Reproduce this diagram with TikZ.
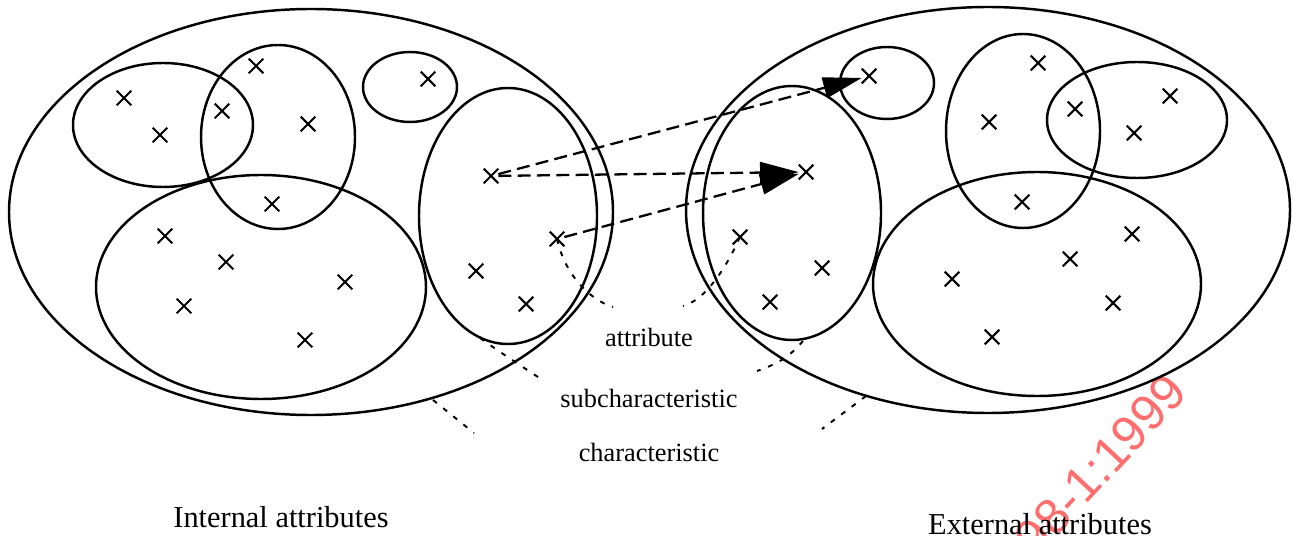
\documentclass[tikz,border=0pt]{standalone}
\usepackage{fontspec}
\setmainfont{Liberation Serif}
\newfontfamily\wmfont{Liberation Sans}
\usetikzlibrary{shapes.misc,arrows.meta}
\definecolor{wmred}{RGB}{255,110,110}
\tikzset{
  ell/.style={draw, line width=1.4pt},
  xmark/.style={cross out, draw, line width=1.2pt, inner sep=0pt, minimum size=0.25cm},
  dasharrow/.style={line width=1.3pt, dash pattern=on 7.4pt off 3.6pt, -{Triangle[length=22pt,width=12pt]}},
  leader/.style={line width=1.1pt, dash pattern=on 2.8pt off 4.6pt},
  lab/.style={font=\fontsize{15}{18}\selectfont, inner sep=0pt},
  ttl/.style={font=\fontsize{17.3}{20}\selectfont, inner sep=0pt}
}
\begin{document}
\begin{tikzpicture}[x=0.02cm,y=-0.02cm]
\useasboundingbox (0,0) rectangle (1293,536);
% watermark (behind)
\node[text=wmred, font=\wmfont\fontsize{28.4}{32}\selectfont, rotate=47, anchor=base east, inner sep=0pt] (wm) at (1190,394) {14598-1:1999};

% ---------- internal attributes (left) ----------
\draw[ell] (311,212) ellipse (302 and 203);
\draw[ell] (163,125) ellipse (90 and 62);
\draw[ell] (278,137) ellipse (77 and 92);
\draw[ell] (410,87) ellipse (47 and 35);
\draw[ell] (261,287) ellipse (165 and 112);
\draw[ell] (508,216) ellipse (89 and 128);

\node[xmark] (i1) at (124,98) {};
\node[xmark] (i2) at (160,135) {};
\node[xmark] (i3) at (222,111) {};
\node[xmark] (i4) at (256,66) {};
\node[xmark] (i5) at (308,124) {};
\node[xmark] (i6) at (272,204) {};
\node[xmark] (i7) at (165,236) {};
\node[xmark] (i8) at (226,262) {};
\node[xmark] (i9) at (184,306) {};
\node[xmark] (i10) at (345,282) {};
\node[xmark] (i11) at (305,340) {};
\node[xmark] (i12) at (428,79) {};
\node[xmark] (iB) at (491,176) {};
\node[xmark] (iA) at (557,239) {};
\node[xmark] (i15) at (476,271) {};
\node[xmark] (i16) at (526,304) {};

% ---------- external attributes (right) ----------
\draw[ell] (988,210) ellipse (302 and 203);
\draw[ell] (792,213) ellipse (89 and 127);
\draw[ell] (887,83) ellipse (47 and 36);
\draw[ell] (1023,131) ellipse (77 and 97);
\draw[ell] (1137,120) ellipse (90 and 58);
\draw[ell] (1037,284) ellipse (164 and 112);

\node[xmark] (eB) at (869,76) {};
\node[xmark] (eC) at (806,172) {};
\node[xmark] (eA) at (740,237) {};
\node[xmark] (e4) at (822,268) {};
\node[xmark] (e5) at (770,302) {};
\node[xmark] (e6) at (1038,63) {};
\node[xmark] (e7) at (989,122) {};
\node[xmark] (e8) at (1075,109) {};
\node[xmark] (e9) at (1170,96) {};
\node[xmark] (e10) at (1134,133) {};
\node[xmark] (e11) at (1022,202) {};
\node[xmark] (e12) at (1132,234) {};
\node[xmark] (e13) at (1070,259) {};
\node[xmark] (e14) at (952,279) {};
\node[xmark] (e15) at (1113,303) {};
\node[xmark] (e16) at (992,337) {};

% ---------- mapping arrows ----------
\draw[dasharrow] (iB) -- (eB);
\draw[dasharrow] (iB) -- (eC);
\draw[dasharrow] (iA) -- (eC);

% ---------- labels ----------
\node[lab] (attr) at (649,337) {attribute};
\node[lab] (sub) at (649,398) {subcharacteristic};
\node[lab] (char) at (649,452) {characteristic};
\node[ttl] (int) at (281,517) {Internal attributes};
\node[ttl] (ext) at (1040,524) {External attributes};

% ---------- leader lines ----------
\coordinate (aL) at (613,307);
\coordinate (aR) at (683,306);
\coordinate (sL0) at (480,338);
\coordinate (sL) at (538,377);
\coordinate (sR0) at (803,341);
\coordinate (sR) at (757,371);
\coordinate (cL0) at (433,400);
\coordinate (cL) at (474,433);
\coordinate (cR0) at (866,396);
\coordinate (cR) at (822,429);
\draw[leader] (iA.center) .. controls (565,275) and (590,300) .. (aL);
\draw[leader] (eA.center) .. controls (725,270) and (705,300) .. (aR);
\draw[leader] (sL0) .. controls (500,352) .. (sL);
\draw[leader] (sR0) .. controls (790,356) and (780,363) .. (sR);
\draw[leader] (cL0) -- (cL);
\draw[leader] (cR0) -- (cR);
\end{tikzpicture}
\end{document}
